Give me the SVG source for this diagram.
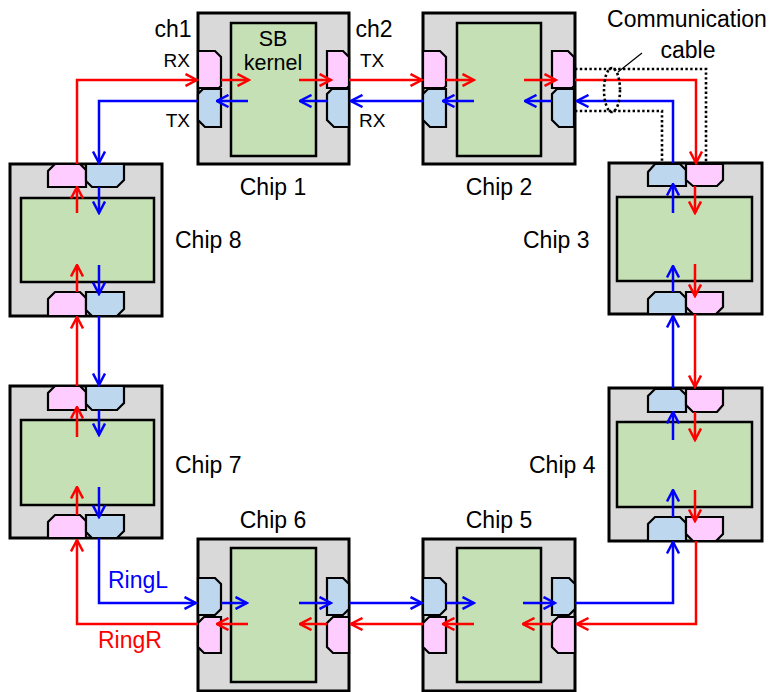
<svg xmlns="http://www.w3.org/2000/svg" width="774" height="692" viewBox="0 0 774 692">
<style>
.chip{fill:#d9d9d9;stroke:#000;stroke-width:3}
.core{fill:#c5e0b4;stroke:#000;stroke-width:2.5}
.pk{fill:#ffccff;stroke:#000;stroke-width:2.2;stroke-linejoin:miter}
.bl{fill:#bdd7ee;stroke:#000;stroke-width:2.2;stroke-linejoin:miter}
.r{fill:none;stroke:#ff0000;stroke-width:2.5;marker-end:url(#ar)}
.b{fill:none;stroke:#0000ff;stroke-width:2.5;marker-end:url(#ab)}
.cab{fill:none;stroke:#000;stroke-width:2.6;stroke-dasharray:2.4 2.4}
text{font-family:"Liberation Sans",Arial,sans-serif;fill:#000}
.lbl{font-size:23px}
.sb{font-size:21.5px}
.sm{font-size:19px}
</style>
<defs>
<marker id="ar" viewBox="0 0 14 14" markerWidth="14" markerHeight="14" refX="12.5" refY="7" orient="auto" markerUnits="userSpaceOnUse"><path d="M1,1 L12.5,7 L1,13" fill="none" stroke="#ff0000" stroke-width="2.5"/></marker>
<marker id="ab" viewBox="0 0 14 14" markerWidth="14" markerHeight="14" refX="12.5" refY="7" orient="auto" markerUnits="userSpaceOnUse"><path d="M1,1 L12.5,7 L1,13" fill="none" stroke="#0000ff" stroke-width="2.5"/></marker>
</defs>

<g id="chip1">
<rect class="chip" x="198" y="13" width="151" height="151"/>
<rect class="core" x="231" y="23" width="85" height="133"/>
<polygon class="pk" points="198,51 215,51 221,57 221,86 219,88 198,88"/>
<polygon class="bl" points="203,89 221,89 221,127 205,127 198,120 198,94"/>
<polygon class="pk" points="327,51 343,51 349,57 349,86 347,88 327,88"/>
<polygon class="bl" points="332,89 349,89 349,127 334,127 327,120 327,94"/>
<text class="sb" x="273" y="45.5" text-anchor="middle">SB</text>
<text class="sb" x="273" y="69.5" text-anchor="middle">kernel</text>
<text class="lbl" x="273" y="195" text-anchor="middle">Chip 1</text>
</g>

<g id="chip2">
<rect class="chip" x="423" y="13" width="152" height="151"/>
<rect class="core" x="457" y="23" width="84" height="133"/>
<polygon class="pk" points="423,51 440,51 446,57 446,86 444,88 423,88"/>
<polygon class="bl" points="428,89 446,89 446,127 430,127 423,120 423,94"/>
<polygon class="pk" points="552,51 568,51 574,57 574,86 572,88 552,88"/>
<polygon class="bl" points="557,89 574,89 574,127 559,127 552,120 552,94"/>
<text class="lbl" x="499" y="195" text-anchor="middle">Chip 2</text>
</g>

<g id="chip3">
<rect class="chip" x="609" y="163" width="153" height="151"/>
<rect class="core" x="617" y="197" width="135" height="84"/>
<polygon class="bl" points="648,186 648,172 655,164 680,164 686,170 686,186"/>
<polygon class="pk" points="686,164 723,164 723,180 717,186 693,186 686,180 686,166"/>
<polygon class="bl" points="648,314 648,299 655,292 680,292 686,298 686,314"/>
<polygon class="pk" points="686,292 723,292 723,307 716,314 693,314 686,307"/>
<text class="lbl" x="523" y="248">Chip 3</text>
</g>

<g id="chip4">
<rect class="chip" x="609" y="388" width="153" height="153"/>
<rect class="core" x="617" y="422" width="135" height="85"/>
<polygon class="bl" points="648,412 648,396 655,389 680,389 686,395 686,412"/>
<polygon class="pk" points="686,389 723,389 723,405 717,412 693,412 686,405"/>
<polygon class="bl" points="648,541 648,524 655,517 680,517 686,523 686,541"/>
<polygon class="pk" points="686,517 723,517 723,534 716,541 693,541 686,534"/>
<text class="lbl" x="529" y="473">Chip 4</text>
</g>

<g id="chip5">
<rect class="chip" x="423" y="539" width="152" height="152"/>
<rect class="core" x="457" y="548" width="84" height="134"/>
<polygon class="bl" points="423,578 440,578 446,584 446,609 440,615 423,615"/>
<polygon class="pk" points="429,617 446,617 446,653 429,653 423,647 423,623"/>
<polygon class="bl" points="552,578 569,578 575,584 575,609 569,615 552,615"/>
<polygon class="pk" points="558,617 575,617 575,653 558,653 552,647 552,623"/>
<text class="lbl" x="499" y="528" text-anchor="middle">Chip 5</text>
</g>

<g id="chip6">
<rect class="chip" x="198" y="539" width="151" height="152"/>
<rect class="core" x="231" y="548" width="85" height="134"/>
<polygon class="bl" points="198,578 215,578 221,584 221,609 215,615 198,615"/>
<polygon class="pk" points="204,617 221,617 221,653 204,653 198,647 198,623"/>
<polygon class="bl" points="327,578 343,578 349,584 349,609 343,615 327,615"/>
<polygon class="pk" points="333,617 349,617 349,653 333,653 327,647 327,623"/>
<text class="lbl" x="273" y="528" text-anchor="middle">Chip 6</text>
</g>

<g id="chip7">
<rect class="chip" x="10" y="386" width="152" height="152"/>
<rect class="core" x="21" y="420" width="133" height="85"/>
<polygon class="pk" points="48,410 48,393 55,386 80,386 86,392 86,410"/>
<polygon class="bl" points="86,386 124,386 124,403 117,410 92,410 86,404"/>
<polygon class="pk" points="48,538 48,522 55,515 80,515 86,521 86,538"/>
<polygon class="bl" points="86,515 124,515 124,531 117,538 92,538 86,532"/>
<text class="lbl" x="175" y="473">Chip 7</text>
</g>

<g id="chip8">
<rect class="chip" x="10" y="164" width="152" height="152"/>
<rect class="core" x="21" y="198" width="133" height="84"/>
<polygon class="pk" points="48,187 48,171 55,164 80,164 86,170 86,187"/>
<polygon class="bl" points="86,164 124,164 124,180 117,187 92,187 86,181"/>
<polygon class="pk" points="48,316 48,299 55,292 80,292 86,298 86,316"/>
<polygon class="bl" points="86,292 124,292 124,309 117,316 92,316 86,310"/>
<text class="lbl" x="175" y="248">Chip 8</text>
</g>

<g id="connectors">
<!-- RingR (red) -->
<path class="r" d="M77,164 V80 H197"/>
<path class="r" d="M221,80 H249"/>
<path class="r" d="M299,80 H331"/>
<path class="r" d="M349,80 H422"/>
<path class="r" d="M446,80 H474"/>
<path class="r" d="M524,80 H556"/>
<path class="r" d="M575,80 H696 V163"/>
<path class="r" d="M695,186 V213"/>
<path class="r" d="M695,264 V296"/>
<path class="r" d="M695,314 V387"/>
<path class="r" d="M695,412 V440"/>
<path class="r" d="M695,490 V521"/>
<path class="r" d="M696,541 V624 H577"/>
<path class="r" d="M552,624 H523"/>
<path class="r" d="M474,624 H443"/>
<path class="r" d="M423,624 H351"/>
<path class="r" d="M327,624 H300"/>
<path class="r" d="M248,624 H217"/>
<path class="r" d="M198,624 H77 V540"/>
<path class="r" d="M77,515 V487"/>
<path class="r" d="M77,437 V407"/>
<path class="r" d="M77,386 V317"/>
<path class="r" d="M77,292 V265"/>
<path class="r" d="M77,213 V187"/>
<!-- RingL (blue) -->
<path class="b" d="M198,101 H99 V163"/>
<path class="b" d="M99,187 V213"/>
<path class="b" d="M99,265 V294"/>
<path class="b" d="M99,316 V385"/>
<path class="b" d="M99,410 V435"/>
<path class="b" d="M99,487 V517"/>
<path class="b" d="M99,538 V603 H196"/>
<path class="b" d="M221,603 H247"/>
<path class="b" d="M299,603 H331"/>
<path class="b" d="M349,603 H422"/>
<path class="b" d="M446,603 H474"/>
<path class="b" d="M523,603 H555"/>
<path class="b" d="M575,603 H673 V542"/>
<path class="b" d="M673,517 V490"/>
<path class="b" d="M673,440 V412"/>
<path class="b" d="M673,388 V316"/>
<path class="b" d="M673,292 V266"/>
<path class="b" d="M673,213 V184"/>
<path class="b" d="M673,163 V101 H577"/>
<path class="b" d="M552,101 H525"/>
<path class="b" d="M474,101 H443"/>
<path class="b" d="M423,101 H351"/>
<path class="b" d="M327,101 H300"/>
<path class="b" d="M248,101 H217"/>
</g>

<g id="cable">
<path class="cab" d="M575,69 H706 V163"/>
<path class="cab" d="M575,111 H662 V163"/>
<ellipse class="cab" cx="612" cy="90" rx="8" ry="22"/>
<line x1="618" y1="72" x2="642" y2="53" stroke="#000" stroke-width="1.2"/>
</g>

<g id="labels">
<text class="lbl" x="173" y="37" text-anchor="middle">ch1</text>
<text class="lbl" x="374" y="37" text-anchor="middle">ch2</text>
<text class="sm" x="190" y="67" text-anchor="end">RX</text>
<text class="sm" x="190" y="127" text-anchor="end">TX</text>
<text class="sm" x="360" y="67">TX</text>
<text class="sm" x="359" y="127">RX</text>
<text class="lbl" x="687" y="27" text-anchor="middle">Communication</text>
<text class="lbl" x="688" y="58" text-anchor="middle">cable</text>
<text class="lbl" x="108" y="588" style="fill:#0000ff">RingL</text>
<text class="lbl" x="98" y="648" style="fill:#ff0000">RingR</text>
</g>
</svg>
